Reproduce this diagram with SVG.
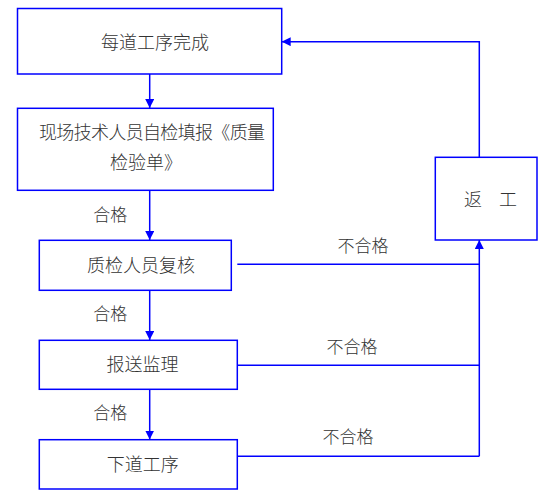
<svg xmlns="http://www.w3.org/2000/svg" width="544" height="493" viewBox="0 0 544 493">
<defs>
<style>
.box{fill:#fff;stroke:#0000ff;stroke-width:1.5}
.ln{fill:none;stroke:#0000ff;stroke-width:1.5}
.t{font-family:"Liberation Serif","Noto Sans CJK SC",serif;font-size:18px;font-weight:300;fill:#333;dominant-baseline:central}
.c{text-anchor:middle}
.l{font-family:"Liberation Serif","Noto Sans CJK SC",serif;font-size:17px;font-weight:300;fill:#333;dominant-baseline:central;text-anchor:middle}
</style>
<marker id="ah" viewBox="0 0 10 10" refX="10" refY="5" markerWidth="9" markerHeight="9" markerUnits="userSpaceOnUse" orient="auto">
<path d="M0,0 L10,5 L0,10 z" fill="#0000ff"/>
</marker>
</defs>
<rect width="544" height="493" fill="#fff"/>
<g id="connectors">
<line class="ln" x1="149.7" y1="74" x2="149.7" y2="108" marker-end="url(#ah)"/>
<line class="ln" x1="149.7" y1="190" x2="149.7" y2="240" marker-end="url(#ah)"/>
<line class="ln" x1="149.7" y1="290" x2="149.7" y2="340" marker-end="url(#ah)"/>
<line class="ln" x1="149.7" y1="389" x2="149.7" y2="439.5" marker-end="url(#ah)"/>
<polyline class="ln" points="479.3,157.3 479.3,41.7 281.7,41.7" marker-end="url(#ah)"/>
<line class="ln" x1="237.3" y1="264.3" x2="479.3" y2="264.3"/>
<line class="ln" x1="237.3" y1="365.3" x2="479.3" y2="365.3"/>
<line class="ln" x1="237.3" y1="456.3" x2="479.3" y2="456.3"/>
<line class="ln" x1="479.3" y1="456.3" x2="479.3" y2="240" marker-end="url(#ah)"/>
<text class="l" x="110.3" y="215.7">合格</text>
<text class="l" x="110.3" y="314.3">合格</text>
<text class="l" x="110.3" y="413.3">合格</text>
<text class="l" x="363" y="246.7">不合格</text>
<text class="l" x="352" y="347">不合格</text>
<text class="l" x="348" y="437">不合格</text>
</g>
<g id="n1">
<rect class="box" x="17.5" y="8.5" width="264.2" height="65.5"/>
<text class="t c" x="155" y="43.3">每道工序完成</text>
</g>
<g id="n2">
<rect class="box" x="17.5" y="108.3" width="255.8" height="82"/>
<text class="t" x="39" y="132.7" textLength="226" lengthAdjust="spacing">现场技术人员自检填报《质量</text>
<text class="t" x="110" y="163.3">检验单》</text>
</g>
<g id="n3">
<rect class="box" x="39.3" y="240.3" width="192" height="50"/>
<text class="t c" x="141" y="266">质检人员复核</text>
</g>
<g id="n4">
<rect class="box" x="39.3" y="340.3" width="198" height="49"/>
<text class="t c" x="142.6" y="365">报送监理</text>
</g>
<g id="n5">
<rect class="box" x="39.3" y="439.7" width="198" height="49.3"/>
<text class="t c" x="142.8" y="465">下道工序</text>
</g>
<g id="n6">
<rect class="box" x="435.3" y="157.3" width="101.7" height="82.7"/>
<text class="t" x="464" y="200">返</text>
<text class="t" x="499" y="200">工</text>
</g>
</svg>
